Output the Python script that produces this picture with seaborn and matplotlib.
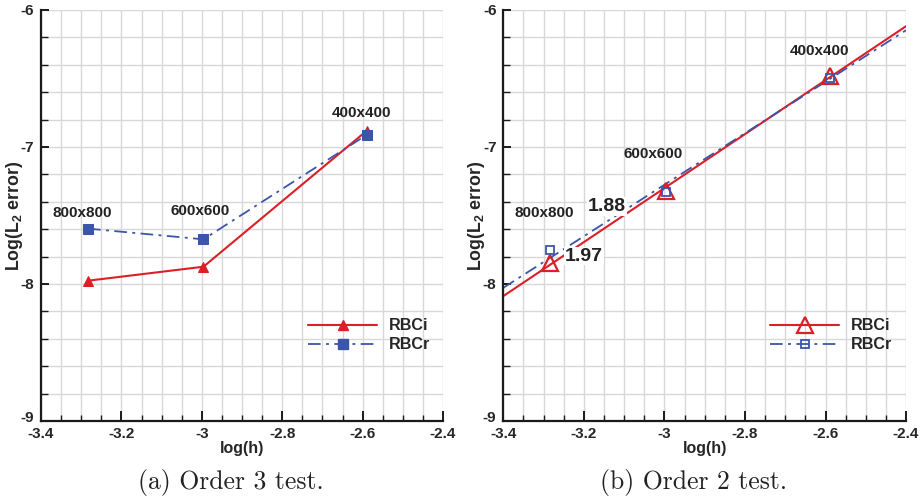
import numpy as np
import pandas as pd
import matplotlib
matplotlib.use("Agg")
import matplotlib.pyplot as plt
import matplotlib.transforms as mtransforms
from matplotlib.lines import Line2D
from matplotlib.ticker import MultipleLocator
import seaborn as sns

# ---- data -------------------------------------------------------------
log_h = [-3.283, -2.996, -2.590]
grid_labels = ["800x800", "600x600", "400x400"]

# (a) order 3 test
o3_rbci = [-7.976, -7.874, -6.882]
o3_rbcr = [-7.596, -7.674, -6.912]

# (b) order 2 test
o2_rbci = [-7.844, -7.319, -6.480]
o2_rbcr = [-7.752, -7.331, -6.498]
o2_slopes = {"RBCi": 1.97, "RBCr": 1.88}

series_names = ["RBCi", "RBCr"]
captions = ["(a) Order 3 test.", "(b) Order 2 test."]

# ---- style ------------------------------------------------------------
sns.set_theme(style="white")
plt.rcParams["font.family"] = ["Liberation Sans", "DejaVu Sans"]
plt.rcParams["font.weight"] = "bold"
plt.rcParams["mathtext.default"] = "regular"

RED = "#dc1f26"
BLUE = "#3b55a9"
DASHDOT = (0, (7, 3, 1.6, 3))
FS = 11

fig = plt.figure(figsize=(9.22, 5.04), dpi=100)
ax_a = fig.add_axes([0.0445, 0.1647, 0.436, 0.8155])
ax_b = fig.add_axes([0.5459, 0.1647, 0.4368, 0.8155])


def style_axes(ax):
    ax.set_xlim(-3.4, -2.4)
    ax.set_ylim(-9, -6)
    ax.xaxis.set_minor_locator(MultipleLocator(0.05))
    ax.yaxis.set_minor_locator(MultipleLocator(0.2))
    ax.set_xticks([-3.4, -3.2, -3.0, -2.8, -2.6, -2.4])
    ax.set_xticklabels(["-3.4", "-3.2", "-3", "-2.8", "-2.6", "-2.4"])
    ax.set_yticks([-9, -8, -7, -6])
    ax.set_yticklabels(["-9", "-8", "-7", "-6"])
    ax.grid(which="both", color="#d8d8d8", linewidth=1.0)
    ax.set_axisbelow(True)
    for side in ("top", "right"):
        ax.spines[side].set_visible(False)
    for side in ("left", "bottom"):
        ax.spines[side].set_color("#1a1a1a")
        ax.spines[side].set_linewidth(1.6)
    ax.tick_params(which="both", direction="in", left=True, bottom=True,
                   color="#1a1a1a", labelsize=FS)
    ax.tick_params(axis="x", which="major", length=7, width=1.4, pad=4)
    ax.tick_params(axis="x", which="minor", length=4, width=1.0)
    ax.tick_params(axis="y", which="major", length=6, width=1.4, pad=5)
    ax.tick_params(axis="y", which="minor", length=5, width=1.0)
    for lab in ax.get_xticklabels() + ax.get_yticklabels():
        lab.set_fontweight("bold")
    # lift the bottom y label a little so it clears the corner x label
    lift = mtransforms.ScaledTranslation(0, 3 / 72, fig.dpi_scale_trans)
    bottom_lab = ax.get_yticklabels()[0]
    bottom_lab.set_transform(bottom_lab.get_transform() + lift)
    ax.set_xlabel("log(h)", fontsize=FS + 0.5, fontweight="bold", labelpad=0)
    ax.set_ylabel("Log(L$_2$ error)", fontsize=FS + 1.8, fontweight="bold")
    ax.yaxis.set_label_coords(-0.041, 0.5)


def add_legend(ax, handles, x0):
    ax.legend(handles, series_names, loc="upper left",
              bbox_to_anchor=(x0, 0.25), frameon=False, borderpad=0,
              borderaxespad=0, handlelength=4.3, handletextpad=0.75,
              labelspacing=0.25, prop={"weight": "bold", "size": FS + 0.6})


# ---- (a) order 3 ------------------------------------------------------
df_a = pd.DataFrame({"log_h": log_h * 2,
                     "err": o3_rbci + o3_rbcr,
                     "scheme": ["RBCi"] * 3 + ["RBCr"] * 3})
sns.lineplot(data=df_a[df_a.scheme == "RBCi"], x="log_h", y="err", ax=ax_a,
             color=RED, lw=1.5, marker="^", markersize=7.5,
             markeredgecolor=RED, sort=False, zorder=3)
sns.lineplot(data=df_a[df_a.scheme == "RBCr"], x="log_h", y="err", ax=ax_a,
             color=BLUE, lw=1.3, linestyle=DASHDOT, marker="s", markersize=7,
             markeredgecolor=BLUE, sort=False, zorder=3)
style_axes(ax_a)

a_label_pos = [(-3.298, -7.48), (-3.004, -7.467), (-2.602, -6.752)]
for (tx, ty), lab in zip(a_label_pos, grid_labels):
    ax_a.text(tx, ty, lab, ha="center", va="center", fontsize=FS,
              fontweight="bold", color="#222222")

handles_a = [
    Line2D([], [], color=RED, lw=1.5, marker="^", markersize=7.5,
           markeredgecolor=RED),
    Line2D([], [], color=BLUE, lw=1.3, linestyle=DASHDOT, marker="s",
           markersize=7, markeredgecolor=BLUE),
]
add_legend(ax_a, handles_a, 0.664)

# ---- (b) order 2 ------------------------------------------------------
xs = np.array(log_h)
fit_x = np.array([-3.4, -2.4])
for vals, name, color, ls, lw in [(o2_rbci, "RBCi", RED, "-", 1.5),
                                  (o2_rbcr, "RBCr", BLUE, DASHDOT, 1.3)]:
    ys = np.array(vals)
    slope = o2_slopes[name]
    fit_y = ys.mean() + slope * (fit_x - xs.mean())
    sns.lineplot(x=fit_x, y=fit_y, ax=ax_b, color=color, lw=lw,
                 linestyle=ls, zorder=2)

ax_b.plot(log_h, o2_rbci, linestyle="none", marker="^", markersize=12,
          markerfacecolor="none", markeredgecolor=RED, markeredgewidth=1.6,
          zorder=4)
ax_b.plot(log_h, o2_rbcr, linestyle="none", marker="s", markersize=6,
          markerfacecolor="none", markeredgecolor=BLUE, markeredgewidth=1.3,
          zorder=5)
style_axes(ax_b)

b_label_pos = [(-3.298, -7.479), (-3.027, -7.051), (-2.614, -6.299)]
for (tx, ty), lab in zip(b_label_pos, grid_labels):
    ax_b.text(tx, ty, lab, ha="center", va="center", fontsize=FS,
              fontweight="bold", color="#222222")

slope_label_pos = {"RBCr": (-3.143, -7.434), "RBCi": (-3.200, -7.796)}
for name, (tx, ty) in slope_label_pos.items():
    ax_b.text(tx, ty, f"{o2_slopes[name]:.2f}", ha="center", va="center",
              fontsize=14, fontweight="bold", color="#222222", zorder=6,
              bbox=dict(facecolor="white", edgecolor="none", pad=0.5))

handles_b = [
    Line2D([], [], color=RED, lw=1.5, marker="^", markersize=12,
           markerfacecolor="none", markeredgecolor=RED, markeredgewidth=1.6),
    Line2D([], [], color=BLUE, lw=1.3, linestyle=DASHDOT, marker="s",
           markersize=6, markerfacecolor="none", markeredgecolor=BLUE,
           markeredgewidth=1.3),
]
add_legend(ax_b, handles_b, 0.662)

# ---- captions ---------------------------------------------------------
for cx, cap in zip([231 / 922, 693 / 922], captions):
    fig.text(cx, 1 - 483 / 504, cap, ha="center", va="center",
             fontsize=18.5, fontfamily="cmr10", fontweight="normal",
             color="#222222")

fig.savefig("out.png", dpi=100)
